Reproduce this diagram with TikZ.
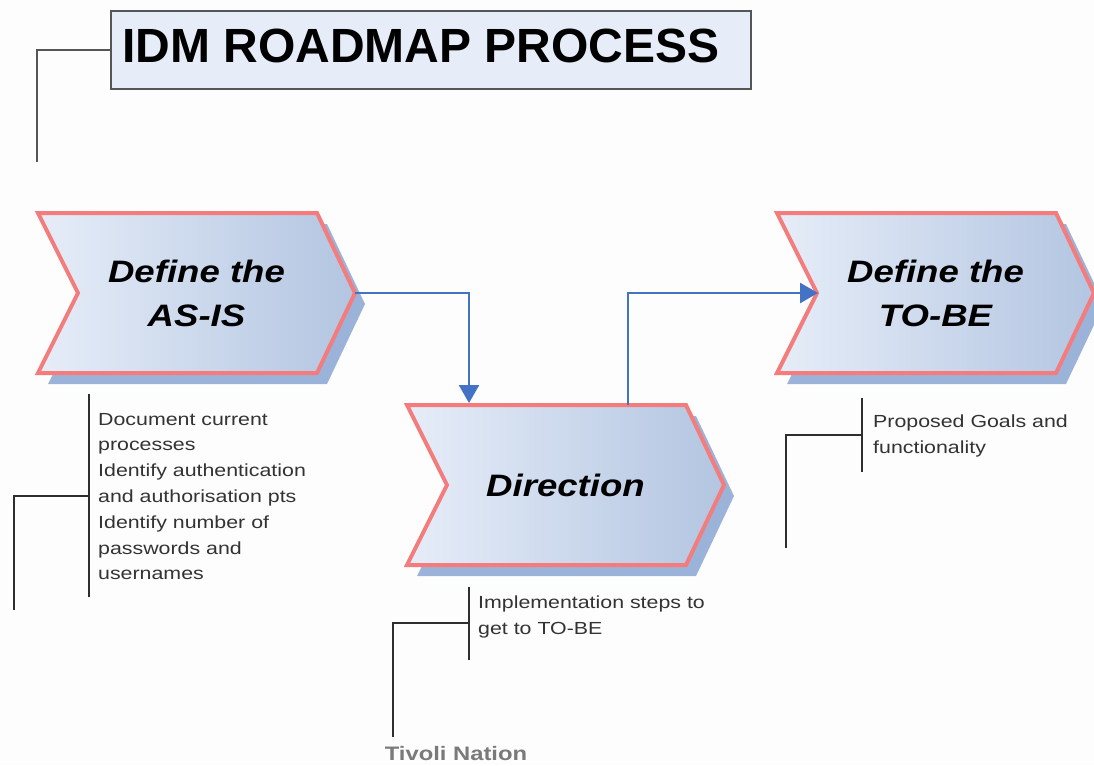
\documentclass[tikz,border=0pt]{standalone}
\usepackage{fontspec}
\setmainfont{Liberation Sans}
\newfontfamily\titlefont{Liberation Sans}
\newfontfamily\chevfont[FakeStretch=1.18]{Liberation Sans}
\newfontfamily\bodyfont[FakeStretch=1.22]{Liberation Sans}
\usetikzlibrary{arrows.meta}
\definecolor{chevL}{HTML}{E6EDF8}
\definecolor{chevR}{HTML}{B3C5E1}
\definecolor{chevShadow}{HTML}{9CB3D9}
\definecolor{chevBorder}{HTML}{F47C7C}
\definecolor{flowBlue}{HTML}{4472C4}
\definecolor{titleFill}{HTML}{E6EDF8}
\definecolor{lineGray}{HTML}{555555}
\definecolor{bracketCol}{HTML}{2E2E2E}
\definecolor{bodyCol}{HTML}{333333}
\definecolor{footCol}{HTML}{7A7A7A}
\definecolor{bgCol}{HTML}{FDFDFD}
\tikzset{
  chevshadow/.style={fill=chevShadow},
  chevbody/.style={draw=chevBorder,line width=4pt,left color=chevL,right color=chevR,line join=miter},
  chevtext/.style={align=center,inner sep=0pt,font={\chevfont\bfseries\itshape\fontsize{31}{44}\selectfont}},
  flow/.style={draw=flowBlue,line width=2.5pt,-{Triangle[width=20pt,length=18pt]}},
  bracket/.style={draw=bracketCol,line width=2pt},
  titleline/.style={draw=lineGray,line width=2pt},
  notetext/.style={anchor=north west,align=left,inner sep=0pt,text=bodyCol,font={\bodyfont\fontsize{17.5}{25.8}\selectfont}},
}
\newcommand\mychev[2]{%
  \fill[chevshadow,shift={(#1+10,#2+11)}] (0,0) -- (279,0) -- (317,80) -- (279,160) -- (0,160) -- (40,80) -- cycle;
  \path[chevbody,shift={(#1,#2)}] (0,0) -- (279,0) -- (317,80) -- (279,160) -- (0,160) -- (40,80) -- cycle;
}
\begin{document}
\begin{tikzpicture}[x=1pt,y=-1pt]
\useasboundingbox[fill=bgCol] (0,0) rectangle (1094,765);

% title
\node[draw=lineGray,line width=2pt,fill=titleFill,minimum width=640pt,minimum height=78pt,inner sep=0pt,anchor=north west] (title) at (110,10) {};
\node[anchor=base west,inner sep=0pt,font={\titlefont\bfseries\fontsize{48}{50}\selectfont}] (titletext) at (122,63) {IDM ROADMAP PROCESS};
\coordinate (titleend) at (37,162);
\draw[titleline] (title.west) -| (titleend);

% chevrons
\mychev{38}{213}
\mychev{407}{405}
\mychev{777}{213}
\node[chevtext] (asis) at (196.5,293) {Define the\\AS-IS};
\node[chevtext] (direction) at (565.5,485) {Direction};
\node[chevtext] (tobe) at (935.5,293) {Define the\\TO-BE};

% flow connectors
\coordinate (asistip) at (355,293);
\coordinate (dirin) at (469,403);
\coordinate (dirout) at (628,405);
\coordinate (tobenotch) at (818,293);
\draw[flow] (asistip) -| (dirin);
\draw[flow] (dirout) |- (tobenotch);

% bracket 1
\coordinate (b1top) at (89,394);
\coordinate (b1bot) at (89,597);
\coordinate (b1mid) at (89,496);
\coordinate (b1end) at (14,610);
\draw[bracket] (b1top) -- (b1bot);
\draw[bracket] (b1mid) -| (b1end);
\node[notetext] (note1) at (98,406.9) {\strut Document current\\processes\\Identify authentication\\and authorisation pts\\Identify number of\\passwords and\\usernames};

% bracket 2
\coordinate (b2top) at (469,587);
\coordinate (b2bot) at (469,660);
\coordinate (b2mid) at (469,623);
\coordinate (b2end) at (393,737);
\draw[bracket] (b2top) -- (b2bot);
\draw[bracket] (b2mid) -| (b2end);
\node[notetext] (note2) at (478,590) {\strut Implementation steps to\\get to TO-BE};

% bracket 3
\coordinate (b3top) at (862,398);
\coordinate (b3bot) at (862,472);
\coordinate (b3mid) at (862,435);
\coordinate (b3end) at (786,548);
\draw[bracket] (b3top) -- (b3bot);
\draw[bracket] (b3mid) -| (b3end);
\node[notetext] (note3) at (873,409) {\strut Proposed Goals and\\functionality};

% footer
\node[anchor=base,inner sep=0pt,text=footCol,font={\bodyfont\bfseries\fontsize{19.5}{21}\selectfont}] (footer) at (456,760) {Tivoli Nation};
\end{tikzpicture}
\end{document}
